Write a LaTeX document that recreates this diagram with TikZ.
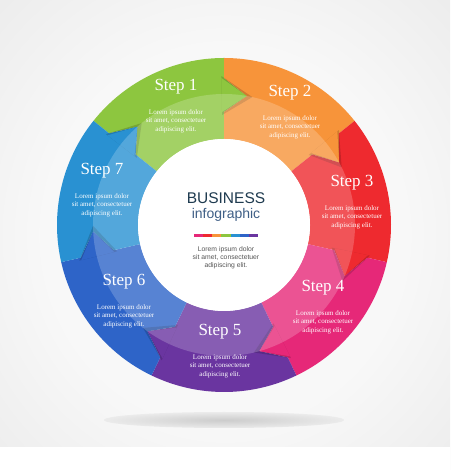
\documentclass[tikz,border=0pt]{standalone}
\usepackage{fontspec}
\setmainfont{Liberation Serif}
\newfontfamily\headfont{Liberation Sans}
\usetikzlibrary{positioning}

\definecolor{bgin}{HTML}{F8F8F8}
\definecolor{bgout}{HTML}{E2E2E2}
\definecolor{stepA}{HTML}{8DC63F}
\definecolor{stepB}{HTML}{F7943A}
\definecolor{stepC}{HTML}{EE2A2F}
\definecolor{stepD}{HTML}{E62878}
\definecolor{stepE}{HTML}{6A35A0}
\definecolor{stepF}{HTML}{2E64C8}
\definecolor{stepG}{HTML}{2991D2}
\definecolor{bizcol}{HTML}{1F3B50}
\definecolor{infocol}{HTML}{3F5F86}
\definecolor{midtext}{HTML}{555555}

\pgfdeclareradialshading{backshade}{\pgfpoint{0bp}{0bp}}{color(0bp)=(bgin); color(20bp)=(bgin); color(50bp)=(bgout); color(80bp)=(bgout)}

\begin{document}
\begin{tikzpicture}[x=1pt, y=1pt,
    steptitle/.style={text=white, inner sep=1pt, font=\fontsize{17}{17}\selectfont},
    steptext/.style={text=white, inner sep=1pt, align=center, font=\fontsize{7}{8.2}\selectfont},
    midtitle/.style={text=bizcol, inner sep=1pt, font=\headfont\fontsize{15.5}{15.5}\selectfont},
    midsub/.style={text=infocol, inner sep=1pt, font=\headfont\fontsize{14}{14}\selectfont},
    midbody/.style={text=midtext, inner sep=1pt, align=center, font=\headfont\fontsize{6.8}{8.2}\selectfont}
]

% background and floor shadow
\useasboundingbox (0,0) rectangle (450,470);
\shade[shading=backshade] (0,0) rectangle (450,470);
\fill[white] (0,0) rectangle (450,23);
\shade[inner color=black!20, outer color=bgout!60!bgin] (224,50) ellipse (120 and 8);

% ring of arrow segments
\begin{scope}[shift={(224,245)}]
  \foreach \k/\col in {1/stepA,2/stepB,3/stepC,4/stepD,5/stepE,6/stepF,7/stepG}{
    \pgfmathsetmacro\a{141.43-(\k-1)*51.43}
    \pgfmathsetmacro\b{\a-51.43}
    \fill[\col] (\a:167) arc[start angle=\a, end angle=\b, radius=167]
      -- (\b:147) -- ({\b-10}:131) -- (\b:113) -- (\b:86)
      arc[start angle=\b, end angle=\a, radius=86]
      -- (\a:113) -- ({\a-10}:131) -- (\a:147) -- cycle;
  }
  % tip shadows
  \foreach \k/\col in {1/stepA,2/stepB,3/stepC,4/stepD,5/stepE,6/stepF,7/stepG}{
    \pgfmathsetmacro\b{90-(\k-1)*51.43}
    \fill[black, opacity=.16] ({\b+1}:149) -- ({\b-12.5}:131) -- ({\b+1}:110) -- cycle;
    \fill[\col] ({\b+1}:147) -- ({\b-10}:131) -- ({\b+1}:113) -- cycle;
  }
  % lighter inner band and white centre
  \fill[white, opacity=.2, even odd rule] (0,0) circle (131) (0,0) circle (86);
  \fill[white] (0,0) circle (86);
\end{scope}

% step labels
\node[steptitle] (s1) at (176,383) {Step 1};
\node[steptext, below=13pt of s1] (l1) {Lorem ipsum dolor\\sit amet, consectetuer\\adipiscing elit.};
\node[steptitle] (s2) at (290,377) {Step 2};
\node[steptext, below=13pt of s2] (l2) {Lorem ipsum dolor\\sit amet, consectetuer\\adipiscing elit.};
\node[steptitle] (s3) at (352,287) {Step 3};
\node[steptext, below=13pt of s3] (l3) {Lorem ipsum dolor\\sit amet, consectetuer\\adipiscing elit.};
\node[steptitle] (s4) at (323,182) {Step 4};
\node[steptext, below=13pt of s4] (l4) {Lorem ipsum dolor\\sit amet, consectetuer\\adipiscing elit.};
\node[steptitle] (s5) at (220,138) {Step 5};
\node[steptext, below=13pt of s5] (l5) {Lorem ipsum dolor\\sit amet, consectetuer\\adipiscing elit.};
\node[steptitle] (s6) at (124,188) {Step 6};
\node[steptext, below=13pt of s6] (l6) {Lorem ipsum dolor\\sit amet, consectetuer\\adipiscing elit.};
\node[steptitle] (s7) at (102,299) {Step 7};
\node[steptext, below=13pt of s7] (l7) {Lorem ipsum dolor\\sit amet, consectetuer\\adipiscing elit.};

% centre
\node[midtitle] (biz) at (226,272) {BUSINESS};
\node[midsub, below=2pt of biz] (info) {infographic};
\foreach \i/\col in {0/stepD,1/stepC,2/stepB,3/stepA,4/stepG,5/stepF,6/stepE}
  \fill[\col] ({194+\i*9.14},233) rectangle ++(9.14,3);
\node[midbody] (mid) at (226,212) {Lorem ipsum dolor\\sit amet, consectetuer\\adipiscing elit.};

\end{tikzpicture}
\end{document}
